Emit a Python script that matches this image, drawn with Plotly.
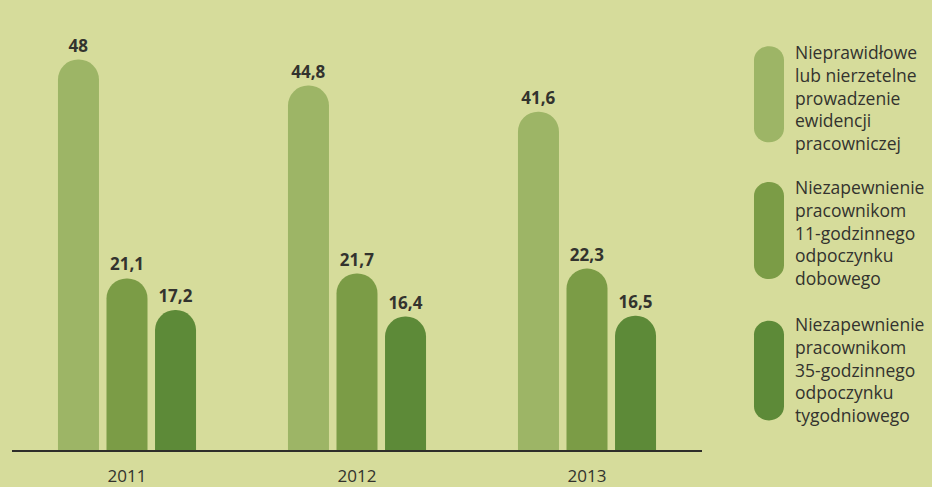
import plotly.graph_objects as go

years = ["2011", "2012", "2013"]
series_names = [
    "Nieprawidłowe<br>lub nierzetelne<br>prowadzenie<br>ewidencji<br>pracowniczej",
    "Niezapewnienie<br>pracownikom<br>11-godzinnego<br>odpoczynku<br>dobowego",
    "Niezapewnienie<br>pracownikom<br>35-godzinnego<br>odpoczynku<br>tygodniowego",
]
ewidencja = [48, 44.8, 41.6]
dobowy = [21.1, 21.7, 22.3]
tygodniowy = [17.2, 16.4, 16.5]
series_values = [ewidencja, dobowy, tygodniowy]
colors = ["#9db566", "#7b9c46", "#5d8a38"]

W, H = 932, 487
BG = "#d6dc9b"
TXT = "#33332e"


def fmt(v):
    return (f"{v:g}").replace(".", ",")


fig = go.Figure()
for name, vals, col in zip(series_names, series_values, colors):
    fig.add_trace(go.Bar(
        x=years, y=vals, name=name,
        marker=dict(color=col, line=dict(width=0), cornerradius="50%"),
        text=[fmt(v) for v in vals],
        textposition="outside",
        cliponaxis=False,
        textfont=dict(family="Open Sans", size=17, color=TXT, weight="bold"),
        showlegend=False,
    ))


def px(x, y):
    return f"{x / W:.5f},{1 - y / H:.5f}"


def pill_path(x0, x1, y0, y1):
    r = (x1 - x0) / 2
    xc = (x0 + x1) / 2
    k = 0.5523 * r
    return (
        f"M{px(x0, y0 + r)} "
        f"C{px(x0, y0 + r - k)} {px(xc - k, y0)} {px(xc, y0)} "
        f"C{px(xc + k, y0)} {px(x1, y0 + r - k)} {px(x1, y0 + r)} "
        f"L{px(x1, y1 - r)} "
        f"C{px(x1, y1 - r + k)} {px(xc + k, y1)} {px(xc, y1)} "
        f"C{px(xc - k, y1)} {px(x0, y1 - r + k)} {px(x0, y1 - r)} Z"
    )


# legend swatches (pills) and labels
legend_y = [(50, 154), (197, 302), (347, 455)]
text_centers = [105, 251.5, 399.5]
for (y0, y1), yc, col, name in zip(legend_y, text_centers, colors, series_names):
    fig.add_shape(
        type="path", xref="paper", yref="paper",
        path=pill_path(754, 784, y0, y1),
        fillcolor=col, line=dict(width=0), layer="above",
    )
    fig.add_annotation(
        xref="paper", yref="paper", x=793 / W, y=1 - yc / H,
        xanchor="left", yanchor="middle", align="left", showarrow=False,
        text=name, font=dict(family="Open Sans", size=17.5, color=TXT),
    )

fig.update_layout(
    width=W, height=H,
    margin=dict(l=0, r=0, t=0, b=H - 452),
    paper_bgcolor=BG, plot_bgcolor=BG,
    barmode="group", bargap=0.367, bargroupgap=0.155,
    xaxis=dict(
        domain=[12 / W, 702 / W], range=[-0.5, 2.5],
        showline=True, linecolor="#2e2e2a", linewidth=2,
        showgrid=False, zeroline=False, ticks="",
        ticklabelstandoff=10,
        tickfont=dict(family="Open Sans", size=17, color=TXT),
    ),
    yaxis=dict(range=[0, 452 / 8.17], visible=False, showgrid=False),
)

fig.write_html("out.html")
